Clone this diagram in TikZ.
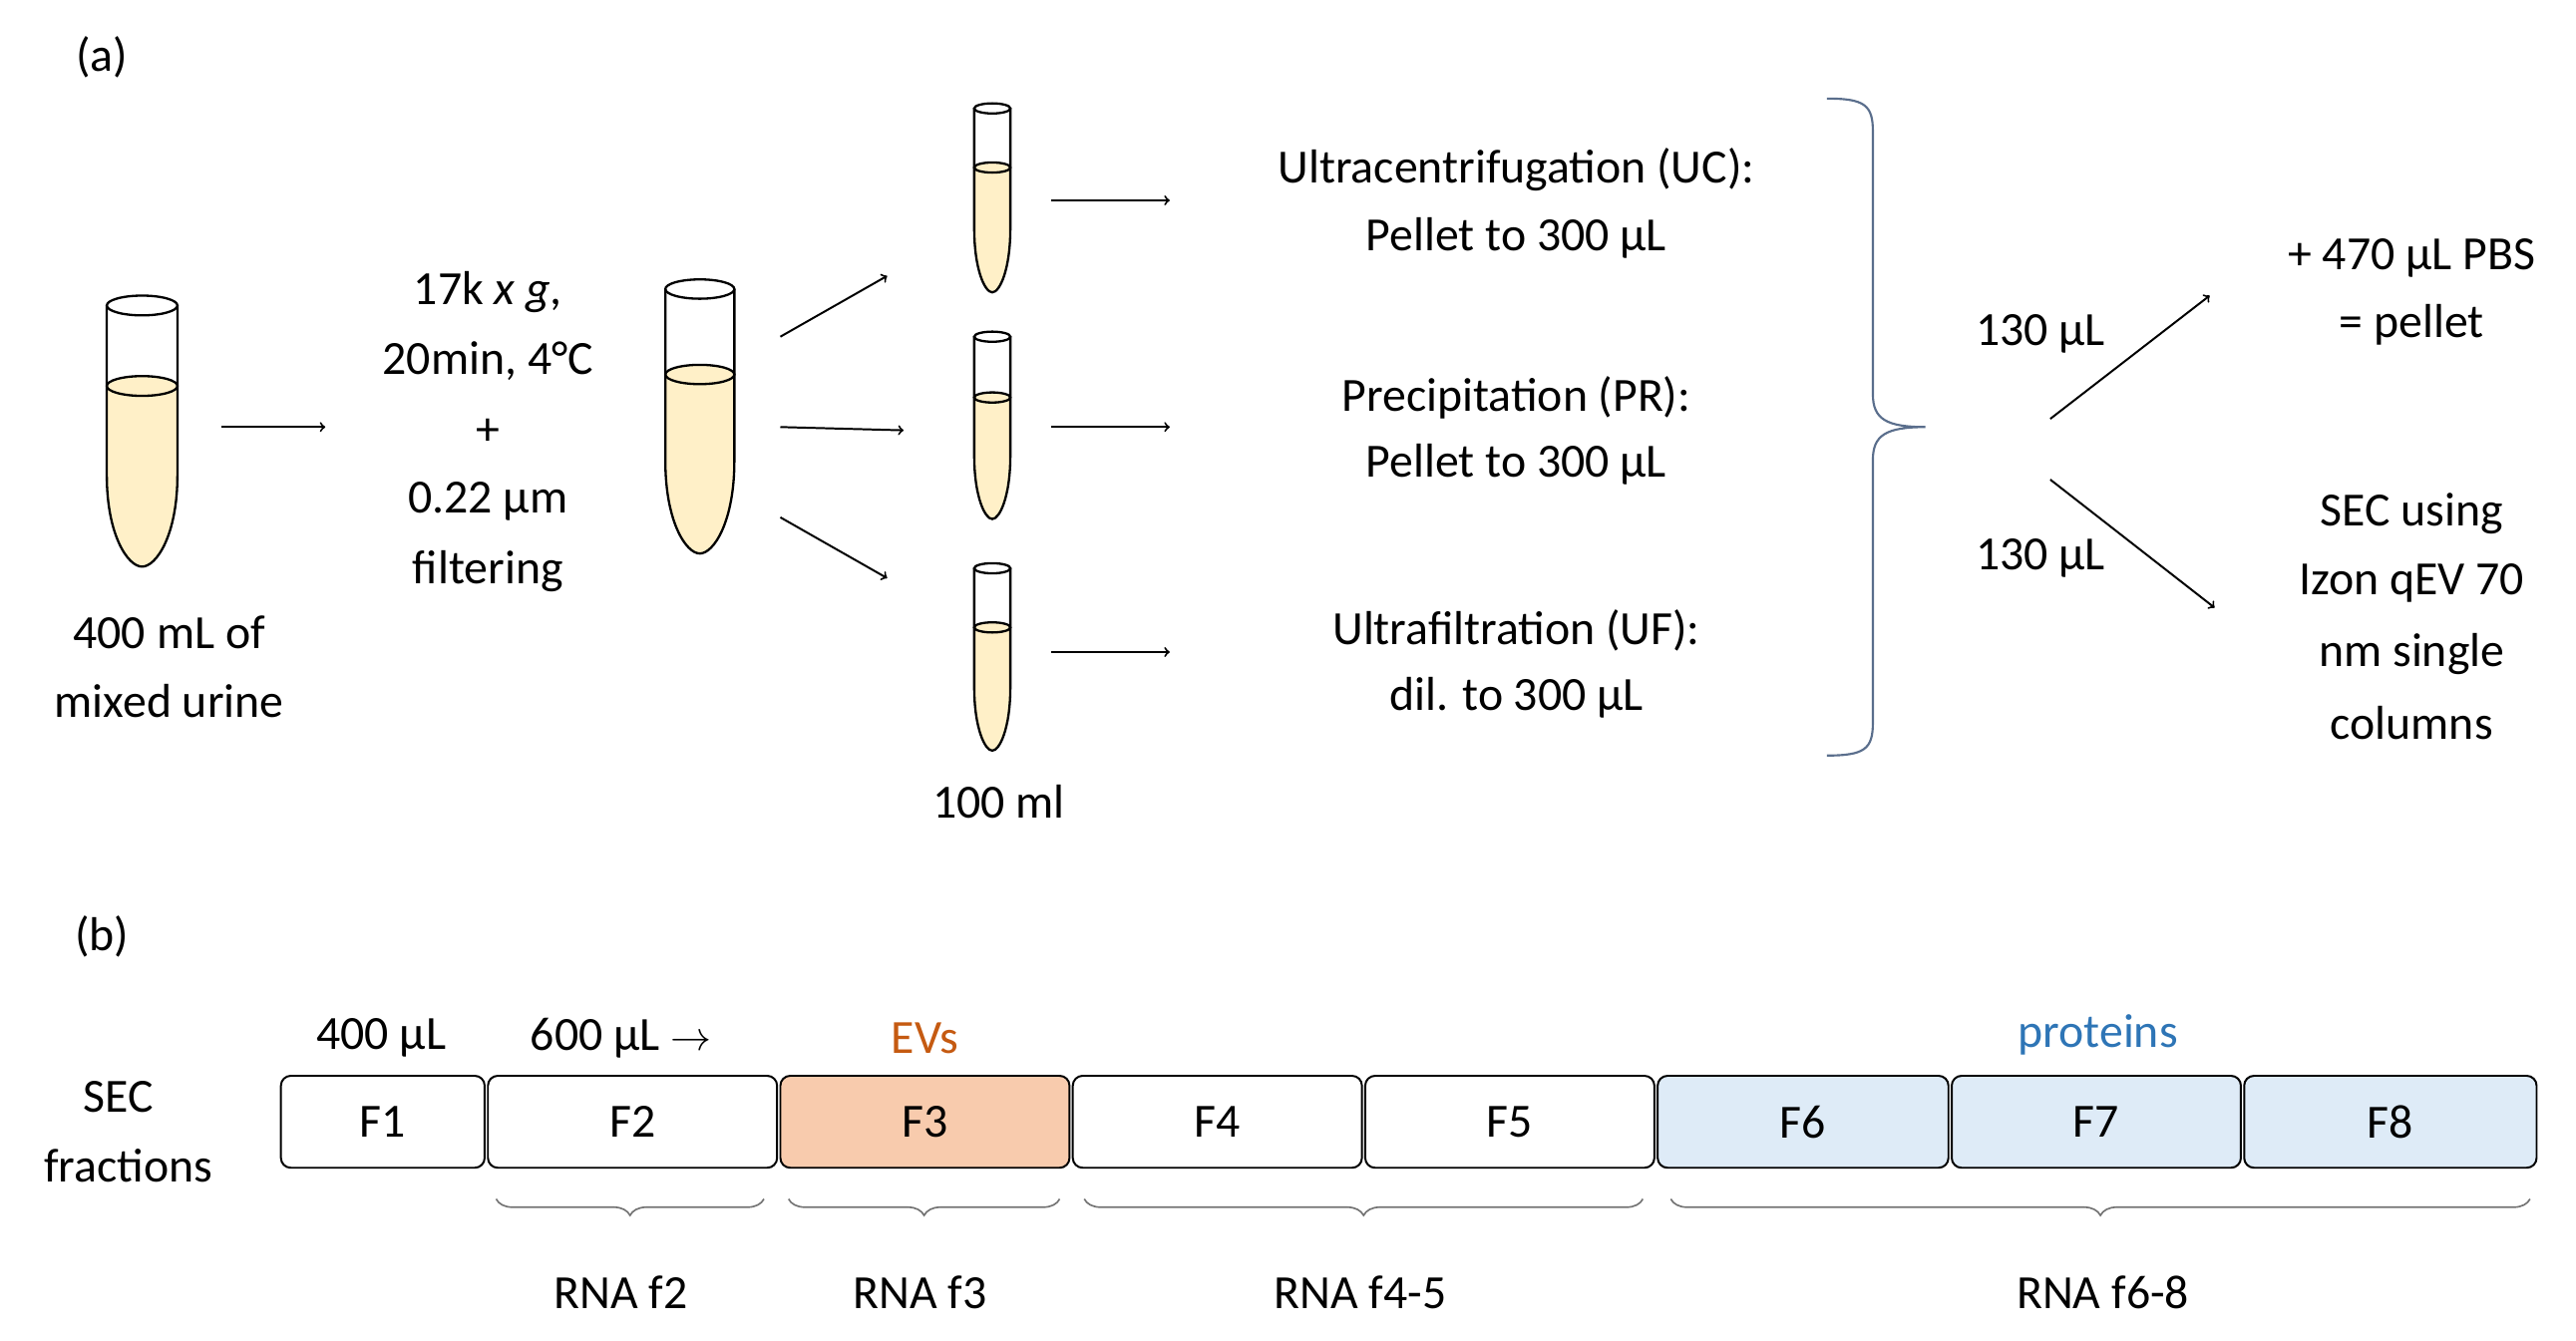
\documentclass[tikz,border=0pt]{standalone}
\usepackage{fontspec}
\setmainfont{Carlito}
\usetikzlibrary{decorations.pathreplacing}
\definecolor{liq}{HTML}{FFF0C8}
\definecolor{evo}{HTML}{F8CBAD}
\definecolor{evt}{HTML}{C55A11}
\definecolor{prb}{HTML}{DEEBF7}
\definecolor{prt}{HTML}{2E75B6}
\definecolor{brc}{HTML}{5A6E8C}
\begin{document}
\begin{tikzpicture}[x=1pt,y=-1pt,
  txt/.style={font=\fontsize{29}{34}\selectfont, inner sep=0pt},
  arr/.style={-to, line width=1.2pt, shorten >=0pt},
  box/.style={draw, line width=1.2pt, rounded corners=6pt, font=\fontsize{29}{34}\selectfont},
  gbrace/.style={decorate, decoration={brace, mirror, amplitude=10pt}, draw=black!55, line width=1pt}]
\useasboundingbox (0,0) rectangle (1568,816);
% tube macro: left, right, top, bottom, liquid level
\newcommand{\mytube}[5]{%
  \pgfmathsetmacro{\cx}{(#1+#2)/2}\pgfmathsetmacro{\rw}{(#2-#1)/2}
  \pgfmathsetmacro{\ry}{\rw*0.28}
  \pgfmathsetmacro{\yb}{#4-(#4-#3)*0.35}
  \pgfmathsetmacro{\yc}{#4-(#4-#3)*0.12}
  \pgfmathsetmacro{\xl}{\cx-\rw*0.4}
  \pgfmathsetmacro{\xr}{\cx+\rw*0.4}
  \fill[liq] (#1,#5) -- (#1,\yb) .. controls (#1,\yc) and (\xl,#4) .. (\cx,#4) .. controls (\xr,#4) and (#2,\yc) .. (#2,\yb) -- (#2,#5) -- cycle;
  \draw[line width=1.4pt, fill=liq] (\cx,#5) ellipse [x radius=\rw, y radius=\ry];
  \draw[line width=1.4pt] (\cx,#3) ellipse [x radius=\rw, y radius=\ry];
  \draw[line width=1.4pt] (#1,#3) -- (#1,\yb) .. controls (#1,\yc) and (\xl,#4) .. (\cx,#4) .. controls (\xr,#4) and (#2,\yc) .. (#2,\yb) -- (#2,#3);
}
\node[txt] (a) at (62,35) {(a)};
\node[txt] (b) at (62,570) {(b)};
\mytube{65}{108}{186}{345}{235}
\node[txt] (t1a) at (103,385) {400 mL of};
\node[txt] (t1b) at (103,427) {mixed urine};
\coordinate (a1s) at (135,260); \coordinate (a1e) at (198,260);
\draw[arr] (a1s) -- (a1e);
\node[txt] (c1) at (297,178) {17k \textit{x g},};
\node[txt] (c2) at (297,220) {20min, 4°C};
\node[txt] (c3) at (297,263) {+};
\node[txt] (c4) at (297,305) {0.22 µm};
\node[txt] (c5) at (297,348) {filtering};
\mytube{405}{447}{176}{337}{228}
\coordinate (m1) at (475,205); \coordinate (m1e) at (540,168);
\coordinate (m2) at (475,260); \coordinate (m2e) at (550,262);
\coordinate (m3) at (475,315); \coordinate (m3e) at (540,352);
\draw[arr] (m1) -- (m1e); \draw[arr] (m2) -- (m2e); \draw[arr] (m3) -- (m3e);
\mytube{593}{615}{66}{178}{102}
\mytube{593}{615}{205}{316}{242}
\mytube{593}{615}{346}{457}{382}
\node[txt] (hm) at (608,488) {100 ml};
\foreach \y/\n in {122/s1,260/s2,397/s3}{
  \coordinate (\n s) at (640,\y); \coordinate (\n e) at (712,\y);
  \draw[arr] (\n s) -- (\n e);}
\node[txt] (u1) at (923,103) {Ultracentrifugation (UC):};
\node[txt] (u2) at (923,145) {Pellet to 300 µL};
\node[txt] (p1) at (923,242) {Precipitation (PR):};
\node[txt] (p2) at (923,283) {Pellet to 300 µL};
\node[txt] (f1) at (923,384) {Ultrafiltration (UF):};
\node[txt] (f2) at (923,425) {dil. to 300 µL};
\draw[brc, line width=1.3pt] (1112,60) .. controls (1135,60) and (1140,64) .. (1140,80) -- (1140,240) .. controls (1140,255) and (1148,260) .. (1172,260) .. controls (1148,260) and (1140,265) .. (1140,280) -- (1140,440) .. controls (1140,456) and (1135,460) .. (1112,460);
\node[txt] (v1) at (1242,203) {130 µL};
\node[txt] (v2) at (1242,340) {130 µL};
\coordinate (o1) at (1248,255); \coordinate (o1e) at (1345,180);
\coordinate (o2) at (1248,292); \coordinate (o2e) at (1348,370);
\draw[arr] (o1) -- (o1e); \draw[arr] (o2) -- (o2e);
\node[txt] (r1) at (1468,157) {+ 470 µL PBS};
\node[txt] (r2) at (1468,198) {= pellet};
\node[txt] (r3) at (1468,313) {SEC using};
\node[txt] (r4) at (1468,355) {Izon qEV 70};
\node[txt] (r5) at (1468,398) {nm single};
\node[txt] (r6) at (1468,440) {columns};
% part b
\node[txt] (sec1) at (72,668) {SEC};
\node[txt] (sec2) at (78,710) {fractions};
\foreach \l/\r/\t/\f in {170/296/F1/white, 296/474/F2/white, 474/652/F3/evo, 652/830/F4/white, 830/1008/F5/white, 1008/1187/F6/prb, 1187/1365/F7/prb, 1365/1545/F8/prb}{
  \node[box, fill=\f, minimum width={\r-\l-2}, minimum height=56, inner sep=0pt] (\t) at ({(\l+\r)/2},683) {\t};}
\node[txt] (q1) at (232,632) {400 µL};
\node[txt] (q2) at (378,632) {600 µL $\rightarrow$};
\node[txt, text=evt] (ev) at (563,632) {EVs};
\node[txt, text=prt] (pr) at (1277,630) {proteins};
\draw[gbrace] (302,730) -- (465,730);
\draw[gbrace] (480,730) -- (645,730);
\draw[gbrace] (660,730) -- (1000,730);
\draw[gbrace] (1017,730) -- (1540,730);
\node[txt] (n1) at (378,787) {RNA f2};
\node[txt] (n2) at (560,787) {RNA f3};
\node[txt] (n3) at (828,787) {RNA f4-5};
\node[txt] (n4) at (1280,787) {RNA f6-8};
\end{tikzpicture}
\end{document}
